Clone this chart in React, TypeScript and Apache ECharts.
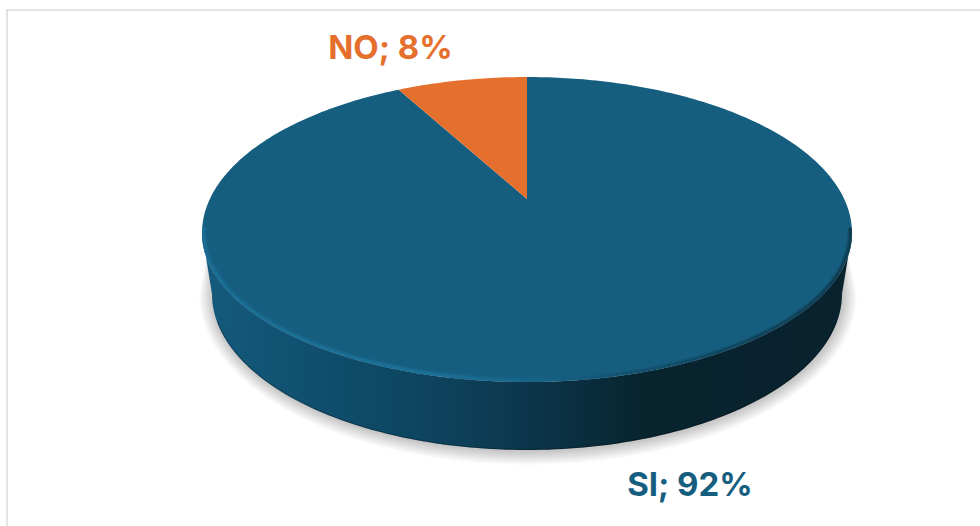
import React, { useEffect, useRef } from "react";
import * as echarts from "echarts";

const categories = ["SI", "NO"];
const shares = [92, 8];
const sliceColors = ["#165e80", "#e5702e"];
const labelFont = "Inter";

const TOP = { cx: 527, cy: 233, rx: 325, ryBack: 156, ryFront: 149 };
const BASE = { cx: 527, cy: 294, rx: 315, ryBack: 156, ryFront: 156 };
const SHADOW_BASE = { cx: 528, cy: 295, rx: 315, ryBack: 156, ryFront: 156 };
const APEX_Y = 199;
const LABEL_POS = [
  [690, 483.5],
  [390.5, 47],
];
const SHADOW_LAYERS = 14;
const BEVEL_INSETS = [0.5, 1.5, 2.5, 3.5, 4.5];
const BEVEL_ALPHAS = [0.5, 0.7, 0.55, 0.3, 0.12];

// Perspective projection of a point of the pie's rim (angle clockwise from 12 o'clock).
function rimPoint(angle: number): number[] {
  const k = (TOP.cy - APEX_Y) / TOP.ryBack;
  const u = Math.sin(angle);
  const v = Math.cos(angle);
  const w = 1 + k * v;
  const xn = (u * Math.sqrt(1 - k * k)) / w;
  const yn = (-v - k) / w;
  return [TOP.cx + TOP.rx * xn, TOP.cy + (yn < 0 ? TOP.ryBack : TOP.ryFront) * yn];
}

function ellipseArc(e: typeof TOP, from: number, to: number, inset = 0): number[][] {
  const pts: number[][] = [];
  const n = 140;
  for (let i = 0; i <= n; i++) {
    const a = ((from + ((to - from) * i) / n) * Math.PI) / 180;
    const s = Math.sin(a);
    const ry = (s < 0 ? e.ryBack : e.ryFront) - inset;
    pts.push([e.cx + (e.rx - inset) * Math.cos(a), e.cy + ry * s]);
  }
  return pts;
}

export default function App() {
  const ref = useRef<HTMLDivElement>(null);
  useEffect(() => {
    const chart = echarts.init(ref.current!, undefined, { renderer: "svg" });
    const total = shares.reduce((a, b) => a + b, 0);

    const renderItem = (params: any, api: any) => {
      const i = params.dataIndex;
      const before = shares.slice(0, i).reduce((a, b) => a + b, 0);
      const start = (before / total) * Math.PI * 2;
      const end = ((before + api.value(0)) / total) * Math.PI * 2;
      const pts: number[][] = [[TOP.cx, APEX_Y]];
      const steps = Math.max(8, Math.round((end - start) * 60));
      for (let s = 0; s <= steps; s++) pts.push(rimPoint(start + ((end - start) * s) / steps));

      const children: any[] = [];
      if (i === 0) {
        const wall = [...ellipseArc(TOP, 180, 0), ...ellipseArc(BASE, 0, 180)];
        for (let k = SHADOW_LAYERS; k >= 1; k--) {
          children.push({
            type: "polygon",
            shape: { points: [...ellipseArc(TOP, 180, 0, 8), ...ellipseArc(SHADOW_BASE, 0, 180, -k)] },
            style: { fill: "rgba(0,0,0,0.016)" },
          });
        }
        children.push({
          type: "polygon",
          shape: { points: wall },
          style: {
            fill: new echarts.graphic.LinearGradient(0, 0, 1, 0, [
              { offset: 0, color: "#155a7d" },
              { offset: 0.2, color: "#0f4d6c" },
              { offset: 0.4, color: "#0d4059" },
              { offset: 0.55, color: "#0b3144" },
              { offset: 0.68, color: "#08242f" },
              { offset: 1, color: "#08222e" },
            ]),
          },
        });
        children.push({
          type: "polyline",
          shape: { points: ellipseArc(BASE, 10, 170, 0.5) },
          style: { fill: "none", stroke: "rgba(0,0,0,0.25)", lineWidth: 1.2 },
        });
      }
      children.push({
        type: "polygon",
        shape: { points: pts },
        style: { fill: sliceColors[i] },
      });
      if (i === 0) {
        const bevelStops = (a: number) => [
          { offset: 0, color: `rgba(27,116,158,${a})` },
          { offset: 0.35, color: `rgba(30,122,164,${a})` },
          { offset: 0.5, color: `rgba(24,104,142,${a})` },
          { offset: 0.62, color: `rgba(18,82,112,${a})` },
          { offset: 0.8, color: `rgba(12,58,78,${a})` },
          { offset: 1, color: `rgba(10,44,60,${a})` },
        ];
        BEVEL_INSETS.forEach((inset, b) => {
          children.push({
            type: "polyline",
            shape: { points: ellipseArc(TOP, 182, -2, inset) },
            style: {
              fill: "none",
              lineWidth: 1.2,
              stroke: new echarts.graphic.LinearGradient(0, 0, 1, 0, bevelStops(BEVEL_ALPHAS[b])),
            },
          });
        });
      }
      children.push({
        type: "text",
        style: {
          text: `${categories[i]}; ${Math.round((api.value(0) / total) * 100)}%`,
          x: LABEL_POS[i][0],
          y: LABEL_POS[i][1],
          align: "center",
          verticalAlign: "middle",
          fill: sliceColors[i],
          fontFamily: labelFont,
          fontWeight: 700,
          fontSize: 33,
        },
      });
      return { type: "group", children };
    };

    chart.setOption({
      animation: false,
      backgroundColor: "#ffffff",
      graphic: [
        { type: "line", shape: { x1: 6, y1: 10, x2: 980, y2: 10 }, style: { stroke: "#dcdcdc", lineWidth: 1.6 } },
        { type: "line", shape: { x1: 7, y1: 9, x2: 7, y2: 526 }, style: { stroke: "#dcdcdc", lineWidth: 1.6 } },
      ],
      series: [
        {
          type: "custom",
          coordinateSystem: "none",
          silent: true,
          renderItem,
          data: shares.map((v, i) => ({ name: categories[i], value: [v] })),
        },
      ],
    });
    return () => chart.dispose();
  }, []);
  return <div ref={ref} style={{ position: "fixed", left: 0, top: 0, width: 980, height: 526 }} />;
}
